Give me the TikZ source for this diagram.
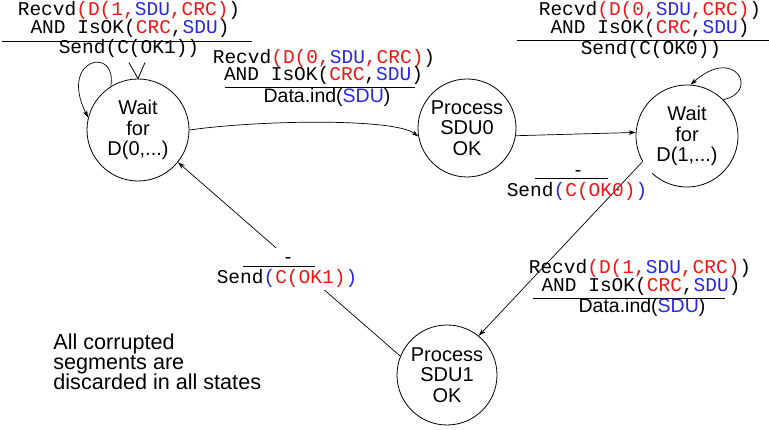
\documentclass[tikz,border=0pt]{standalone}
\usepackage{fontspec}
\setmainfont{Liberation Sans}
\setsansfont{Liberation Sans}
\setmonofont{Liberation Mono}
\usetikzlibrary{arrows.meta}
\definecolor{mred}{RGB}{240,20,20}
\definecolor{mblue}{RGB}{40,40,225}
\newcommand\myred[1]{\textcolor{mred}{#1}}
\newcommand\myblue[1]{\textcolor{mblue}{#1}}
\tikzset{
  x=1pt, y=1pt,
  state/.style={circle, inner sep=0pt, align=center,
    font=\sffamily\fontsize{20}{20.5}\selectfont},
  cond/.style={anchor=base, inner sep=0pt, font=\ttfamily\fontsize{19.5}{19.5}\selectfont},
  act/.style={anchor=base, inner sep=0pt, font=\sffamily\fontsize{19.5}{19.5}\selectfont},
  dashmark/.style={anchor=base, inner sep=0pt, font=\sffamily\fontsize{19.5}{19.5}\selectfont},
  note/.style={anchor=base west, inner sep=0pt, font=\sffamily\fontsize{21.6}{21.6}\selectfont},
  rule/.style={line width=0.8pt},
  edge/.style={line width=0.7pt, -{Stealth[length=7pt,width=4.5pt,inset=2pt]}},
}
\begin{document}
\begin{tikzpicture}
\useasboundingbox (0,0) rectangle (769,430);
\tikzset{every path/.style={line width=0.8pt}}
% states
\node[state, draw, minimum size=102pt] (w0) at (138,300) {Wait\\for\\D(0,...)};
\node[state, draw, minimum size=98pt] (p0) at (467,302) {Process\\SDU0\\OK};
\node[state, minimum size=102pt] (w1) at (687,294) {Wait\\for\\D(1,...)};
\draw ([shift={(227:51pt)}]w1.center) arc[start angle=227, end angle=570, radius=51pt];
\node[state, draw, minimum size=100pt] (p1) at (447,55) {Process\\SDU1\\OK};

% transitions
\draw[edge] (w0.0) .. controls (260,310) and (395,312) .. (p0.190);
\draw[edge] (p0.351) -- (w1.176);
\draw[edge] (w1.45) .. controls (760,338) and (735,385) .. (w1.86);
\draw[edge] (w0.122) .. controls (118,385) and (58,372) .. (w0.166);
\draw ([shift={(-9,16)}]w0.north) -- (w0.north) -- ([shift={(7,16)}]w0.north);
\draw[edge] (w1.210) -- (p1.51);
\draw[edge] (p1.158) -- (w0.321);

% label A (top left)
\node[cond] (a1) at (129,414.5) {Recvd\myred{(D(1,}\myblue{SDU}\myred{,CRC)})};
\node[cond] (a2) at (130,396.5) {AND IsOK(\myred{CRC},\myblue{SDU})};
\draw[rule] (2,389) -- (252,389);
\node[cond] (a3) at (129,376) {Send(C(OK1))};

% label B (middle top)
\node[cond] (b1) at (324,366) {Recvd\myred{(D(0,}\myblue{SDU}\myred{,CRC)})};
\node[cond] (b2) at (323.5,349) {AND IsOK(\myred{CRC},\myblue{SDU})};
\draw[rule] (225,343) -- (415,343);
\node[act] (b3) at (327,327) {Data.ind(\myblue{SDU})};

% label C (top right)
\node[cond] (c1) at (650,414) {Recvd\myred{(D(0,}\myblue{SDU}\myred{,CRC)})};
\node[cond] (c2) at (650,396) {AND IsOK(\myred{CRC},\myblue{SDU})};
\draw[rule] (517,390) -- (769,390);
\node[cond] (c3) at (651,375.5) {Send(C(OK0))};

% label D
\node[dashmark] (d1) at (578,253) {-};
\draw[rule] (535,252) -- (608,252);
\node[cond] (d2) at (577,233) {Send\myblue{(}\myred{C(OK0)}\myblue{)}};

% label E (on a white ground that masks the connector)
\fill[white] (214,140) rectangle (362,182);
\node[dashmark] (e1) at (288,166) {-};
\draw[rule] (243,164) -- (315,164);
\node[cond] (e2) at (287,146) {Send\myblue{(}\myred{C(OK1)}\myblue{)}};

% label F
\node[cond] (f1) at (640,156) {Recvd\myred{(D(1,}\myblue{SDU}\myred{,CRC)})};
\node[cond] (f2) at (641,138) {AND IsOK(\myred{CRC},\myblue{SDU})};
\draw[rule] (533,132) -- (725,132);
\node[act] (f3) at (642,117) {Data.ind(\myblue{SDU})};

% note
\node[note] (n1) at (53,80) {All corrupted};
\node[note] (n2) at (53,60) {segments are};
\node[note] (n3) at (53,40) {discarded in all states};
\end{tikzpicture}
\end{document}
